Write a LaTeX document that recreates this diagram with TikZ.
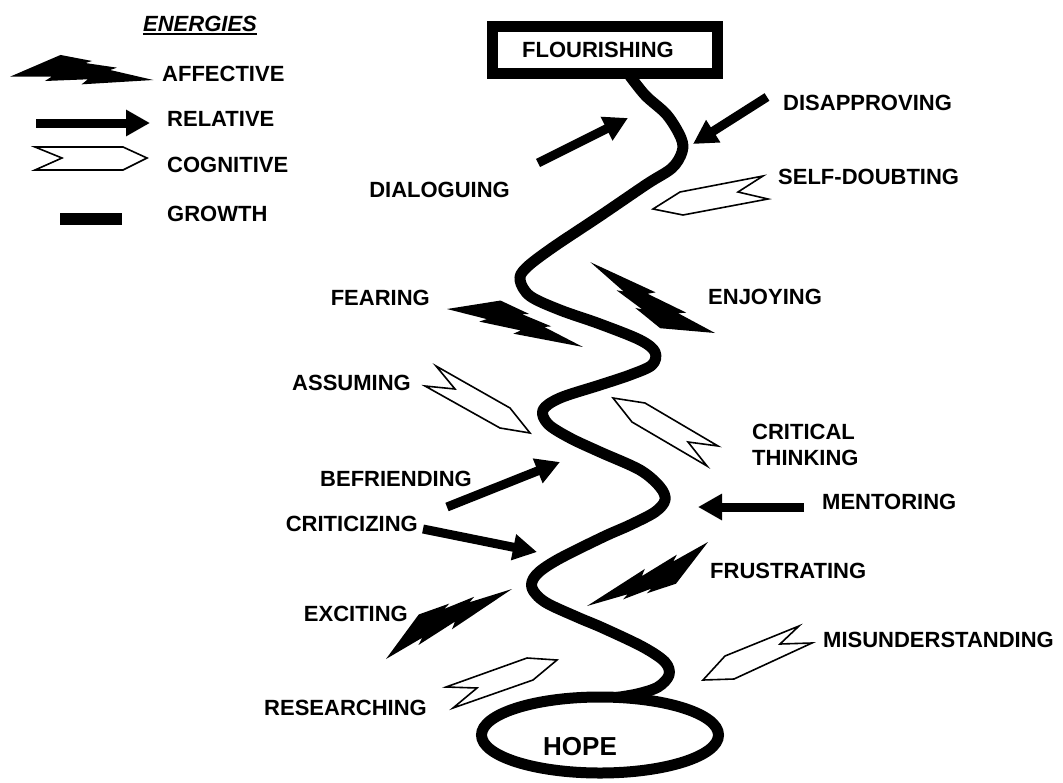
\documentclass[tikz,border=0pt]{standalone}
\usepackage{fontspec}
\setmainfont{Liberation Sans}
\usetikzlibrary{arrows.meta}
\begin{document}
\begin{tikzpicture}[x=1pt,y=-1pt,
  lbl/.style={font=\fontsize{22}{26}\selectfont\bfseries, inner sep=0pt, text height=15.8pt, text depth=0pt},
  growth/.style={line width=11pt, line cap=round, line join=round},
  relarrow/.style={line width=9pt, -{Triangle[length=24pt,width=25pt]}},
  cogshape/.style={draw=black, fill=white, line width=1.6pt, line join=miter},
  bolt/.pic={\fill[black] (0,0) -- (50,-22.9) -- (81.7,-17.6) -- (75,-15.4) -- (106.7,-11.5) -- (100,-9) -- (143.3,0) -- (71.7,6) -- (78,0.8) -- (35,3.5) -- (41.7,-1) -- cycle;}
]
\useasboundingbox (0,0) rectangle (1063,782);

% ---------- legend ----------
\node[lbl, font=\fontsize{22}{26}\selectfont\bfseries\itshape] (energies) at (200,23.5) {ENERGIES};
\draw[line width=2pt] ([yshift=-2pt]energies.south west) -- ([yshift=-2pt]energies.south east);

\pic[rotate=-1.32] at (10,76.7) {bolt};
\node[lbl, anchor=west] (affective) at (162,73.5) {AFFECTIVE};

\coordinate (relS) at (36,123);
\coordinate (relE) at (150,123);
\draw[relarrow] (relS) -- (relE);
\node[lbl, anchor=west] (relative) at (167,118.5) {RELATIVE};

\draw[cogshape] (35,147) -- (123,147) -- (147,158) -- (123,170) -- (35,170) -- (62,158) -- cycle;
\node[lbl, anchor=west] (cognitive) at (167,165) {COGNITIVE};

\fill (60,213) rectangle (122,225);
\node[lbl, anchor=west] (growthlbl) at (167,213.5) {GROWTH};

% ---------- growth line ----------
\draw[growth] plot[smooth, tension=0.55] coordinates {
  (627,72) (645,95) (667,115) (681,138) (682,152) (672,168) (647,184)
  (600,216) (552,248) (526,268) (520,280) (530,296) (560,310) (600,324)
  (640,340) (655,352) (652,365) (630,375) (600,385) (560,398) (543,410)
  (548,424) (570,438) (600,452) (640,470) (660,487) (665,500) (655,512)
  (630,525) (603,537) (557,560) (536,575) (532,588) (545,602) (577,617)
  (603,628) (643,647) (665,662) (669,675) (658,687) (637,694) (613,698)};

% top and bottom
\draw[line width=11.5pt, fill=white] (492.5,26.5) rectangle (717.5,73.5);
\node[lbl] (flourishing) at (598,50) {FLOURISHING};

\draw[line width=11pt, fill=white] (600,735) ellipse [x radius=118.5, y radius=38];
\node[lbl, font=\fontsize{26}{30}\selectfont\bfseries, text height=18.6pt] (hope) at (580,746) {HOPE};

% ---------- relative energies ----------
\coordinate (dlgS) at (538,163);  \coordinate (dlgE) at (628,118);
\draw[relarrow] (dlgS) -- (dlgE);
\coordinate (disS) at (767,97);   \coordinate (disE) at (693,144);
\draw[relarrow] (disS) -- (disE);
\coordinate (befS) at (447,507);  \coordinate (befE) at (560,462);
\draw[relarrow] (befS) -- (befE);
\coordinate (criS) at (423,529);  \coordinate (criE) at (537,552);
\draw[relarrow] (criS) -- (criE);
\coordinate (menS) at (804,507);  \coordinate (menE) at (698,507);
\draw[relarrow] (menS) -- (menE);

% ---------- affective energies ----------
\pic[rotate=-15.61, scale=0.985] at (447,309) {bolt};
\pic[rotate=150.4, scale=1.0] at (715,333) {bolt};
\pic[rotate=-152.12, scale=0.955] at (708,542) {bolt};
\pic[rotate=29.05, scale=1.006] at (386,659) {bolt};

% ---------- cognitive energies ----------
\draw[cogshape] (763,176) -- (738,192) -- (768,199) -- (683,215) -- (653,209) -- (680,192) -- cycle;
\draw[cogshape] (436,366) -- (510,408) -- (530,433) -- (500,428) -- (425,386) -- (455,389) -- cycle;
\draw[cogshape] (613,398) -- (645,403) -- (718,446) -- (688,442) -- (707,466) -- (632,422) -- cycle;
\draw[cogshape] (446,687) -- (477,688) -- (453,708) -- (533,680) -- (557,660) -- (527,658) -- cycle;
\draw[cogshape] (799,626) -- (780,644) -- (812,643) -- (734,679) -- (703,680) -- (725,656) -- cycle;

% ---------- labels ----------
\node[lbl, anchor=west] (disapproving) at (783,103) {DISAPPROVING};
\node[lbl, anchor=east] (dialoguing) at (510,190) {DIALOGUING};
\node[lbl, anchor=west] (selfdoubting) at (778,177) {SELF-DOUBTING};
\node[lbl, anchor=east] (fearing) at (430,298) {FEARING};
\node[lbl, anchor=west] (enjoying) at (708,297) {ENJOYING};
\node[lbl, anchor=west] (assuming) at (292,383) {ASSUMING};
\node[font=\fontsize{22}{26}\selectfont\bfseries, inner sep=0pt, anchor=north west, align=left] (critical) at (752,424) {CRITICAL\\THINKING};
\node[lbl, anchor=east] (befriending) at (472,479) {BEFRIENDING};
\node[lbl, anchor=west] (mentoring) at (822,502) {MENTORING};
\node[lbl, anchor=east] (criticizing) at (418,524) {CRITICIZING};
\node[lbl, anchor=west] (frustrating) at (710,571) {FRUSTRATING};
\node[lbl, anchor=east] (exciting) at (408,614) {EXCITING};
\node[lbl, anchor=west] (misunderstanding) at (823,640) {MISUNDERSTANDING};
\node[lbl, anchor=east] (researching) at (427,708) {RESEARCHING};
\end{tikzpicture}
\end{document}
